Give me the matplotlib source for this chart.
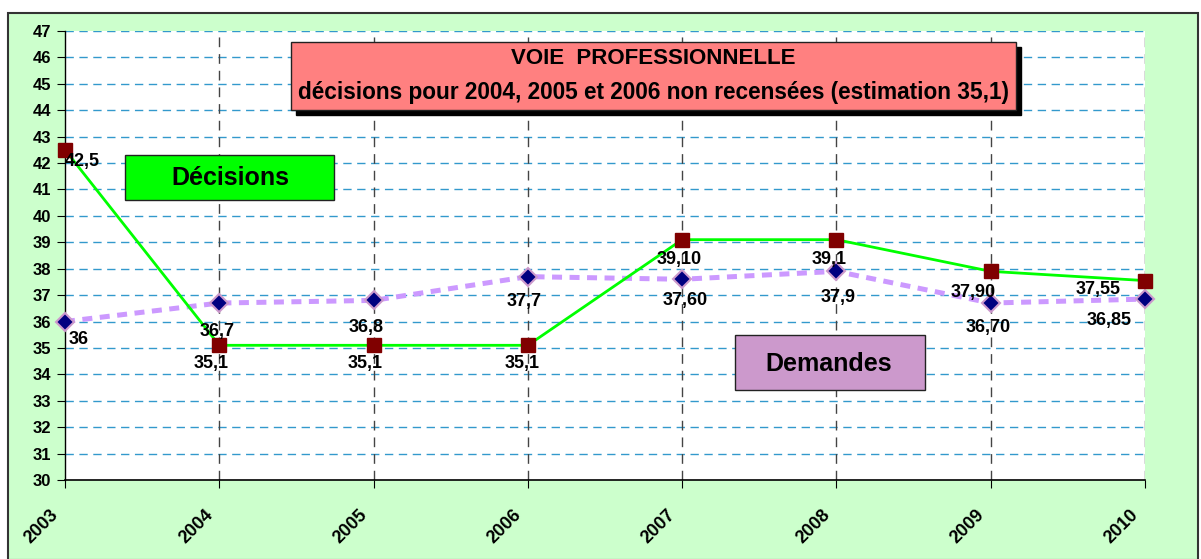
import matplotlib
matplotlib.use("Agg")
import matplotlib.pyplot as plt
from matplotlib.patches import Rectangle
from matplotlib.transforms import ScaledTranslation

years = ["2003", "2004", "2005", "2006", "2007", "2008", "2009", "2010"]
decisions = [42.5, 35.1, 35.1, 35.1, 39.1, 39.1, 37.9, 37.55]
demandes = [36, 36.7, 36.8, 37.7, 37.6, 37.9, 36.7, 36.85]
dec_labels = ["42,5", "35,1", "35,1", "35,1", "39,10", "39,1", "37,90", "37,55"]
dem_labels = ["36", "36,7", "36,8", "37,7", "37,60", "37,9", "36,70", "36,85"]
yticks = list(range(30, 48))

plt.rcParams['font.family'] = ['Liberation Sans', 'DejaVu Sans']
plt.rcParams['font.weight'] = 'bold'

W, H = 1201, 559
fig = plt.figure(figsize=(W / 100, H / 100), dpi=100, facecolor='white')

def fx(px):
    return px / W

def fy(py):
    return 1 - py / H

# outer green background with border
fig.patches.append(Rectangle((fx(8), fy(560)), fx(1198) - fx(8), fy(13) - fy(560),
                             transform=fig.transFigure, facecolor='#CCFFCC',
                             edgecolor='#333333', linewidth=1.5, zorder=-5))

ax = fig.add_axes([fx(65), fy(480), fx(1145) - fx(65), fy(31) - fy(480)])
ax.set_zorder(1)
ax.set_facecolor('white')
x = list(range(len(years)))
ax.set_xlim(0, len(years) - 1)
ax.set_ylim(30, 47)

for y in yticks[1:]:
    ax.axhline(y, color='#3399CC', linestyle=(0, (6, 4)), linewidth=1, zorder=1)
for xi in x[1:]:
    ax.axvline(xi, color='#444444', linestyle=(0, (7, 5)), linewidth=1, zorder=1)

ax.plot(x, demandes, color='#CC99FF', linewidth=3.6, linestyle=(0, (2.0, 1.5)), zorder=2)
ax.plot(x, demandes, linestyle='none', marker='D', markersize=9, markerfacecolor='#000080',
        markeredgecolor='#CC99CC', markeredgewidth=1.5, zorder=4, clip_on=False)
ax.plot(x, decisions, color='#00FF00', linewidth=2, zorder=3)
ax.plot(x, decisions, linestyle='none', marker='s', markersize=10, markerfacecolor='#800000',
        markeredgecolor='#800000', zorder=5, clip_on=False)

dec_off = [(17, -12), (-8, -18), (-8, -18), (-6, -18), (-3, -20), (-7, -20), (-18, -21), (-47, -9)]
dem_off = [(14, -18), (-2, -28), (-7, -27), (-4, -25), (3, -21), (2, -26), (-3, -24), (-36, -21)]
fs_lab = 13
for xi, v, t, (ox, oy) in zip(x, decisions, dec_labels, dec_off):
    ax.annotate(t, (xi, v), xytext=(ox, oy), textcoords='offset pixels', ha='center', va='center',
                fontsize=fs_lab, fontweight='bold', zorder=6, annotation_clip=False)
for xi, v, t, (ox, oy) in zip(x, demandes, dem_labels, dem_off):
    ax.annotate(t, (xi, v), xytext=(ox, oy), textcoords='offset pixels', ha='center', va='center',
                fontsize=fs_lab, fontweight='bold', zorder=6, annotation_clip=False)

ax.set_yticks(yticks)
ax.set_yticklabels([str(v) for v in yticks], fontsize=12, fontweight='bold')
ax.set_xticks(x)
ax.set_xticklabels(years, rotation=45, ha='right', va='center', rotation_mode='anchor',
                   fontsize=13, fontweight='bold')
ax.tick_params(axis='y', direction='out', length=6, pad=4)
ax.tick_params(axis='x', direction='out', length=6, pad=0)
shift = ScaledTranslation(-9 / 100, -24 / 100, fig.dpi_scale_trans)
for lab in ax.get_xticklabels():
    lab.set_transform(lab.get_transform() + shift)
for s in ['top', 'right']:
    ax.spines[s].set_visible(False)
ax.spines['left'].set_color('black')
ax.spines['bottom'].set_color('black')
ax.spines['left'].set_linewidth(1)
ax.spines['bottom'].set_linewidth(1.2)

def box(x0, y0, x1, y1, fc, shadow=False, z=10):
    if shadow:
        fig.patches.append(Rectangle((fx(x0 + 5), fy(y1 + 5)), fx(x1) - fx(x0), fy(y0) - fy(y1),
                                     transform=fig.transFigure, facecolor='black', edgecolor='black',
                                     zorder=z - 1))
    fig.patches.append(Rectangle((fx(x0), fy(y1)), fx(x1) - fx(x0), fy(y0) - fy(y1),
                                 transform=fig.transFigure, facecolor=fc, edgecolor='#222222',
                                 linewidth=1, zorder=z))

box(291, 42, 1016, 110, '#FF8080', shadow=True)
fig.text(fx(653), fy(58), "VOIE  PROFESSIONNELLE", ha='center', va='center', fontsize=16,
         fontweight='bold', zorder=12)
fig.text(fx(654), fy(92), "décisions pour 2004, 2005 et 2006 non recensées (estimation 35,1)",
         ha='center', va='center', fontsize=16.3, fontweight='bold', zorder=12)

box(125, 155, 334, 200, '#00FF00')
fig.text(fx(230), fy(178), "Décisions", ha='center', va='center', fontsize=18, fontweight='bold', zorder=12)

box(735, 335, 925, 390, '#CC99CC')
fig.text(fx(829), fy(364), "Demandes", ha='center', va='center', fontsize=18, fontweight='bold', zorder=12)

fig.savefig('out.png', dpi=100, facecolor='white')
